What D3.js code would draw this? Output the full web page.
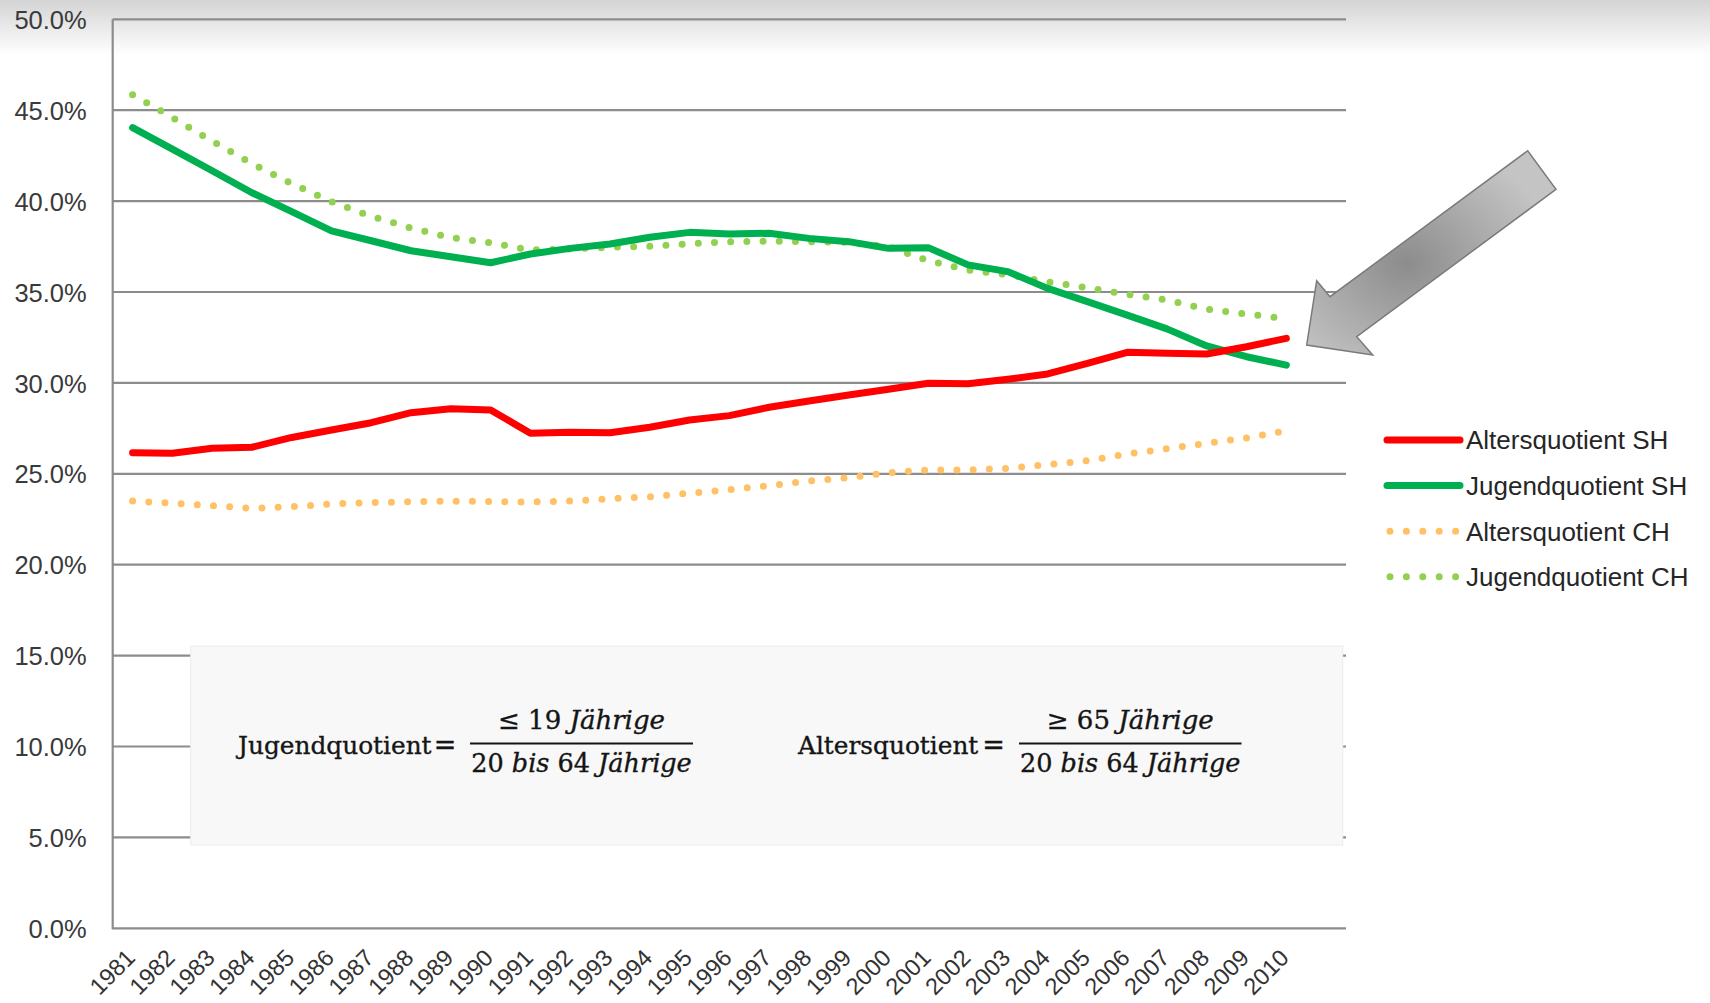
<!DOCTYPE html>
<html>
<head>
<meta charset="utf-8">
<script src="https://cdn.jsdelivr.net/npm/d3@7"></script>
<style>
  html, body { margin: 0; padding: 0; background: #fff; }
  svg { display: block; }
</style>
</head>
<body>
<svg id="chart" width="1710" height="1003"></svg>
<script>
// ---------- data ----------
const years = ["1981","1982","1983","1984","1985","1986","1987","1988","1989","1990",
               "1991","1992","1993","1994","1995","1996","1997","1998","1999","2000",
               "2001","2002","2003","2004","2005","2006","2007","2008","2009","2010"];
const altersSH = [26.16,26.13,26.40,26.46,27.00,27.41,27.81,28.36,28.58,28.51,
                  27.23,27.28,27.26,27.56,27.96,28.20,28.66,29.00,29.33,29.65,
                  29.98,29.95,30.20,30.49,31.08,31.68,31.63,31.59,31.99,32.45];
const jugendSH = [44.04,42.86,41.67,40.46,39.42,38.36,37.82,37.27,36.94,36.61,
                  37.09,37.40,37.64,38.01,38.28,38.19,38.23,37.95,37.77,37.40,
                  37.44,36.49,36.12,35.20,34.47,33.73,32.97,32.03,31.44,30.98];
const altersCH = [23.50,23.38,23.25,23.10,23.19,23.34,23.41,23.47,23.50,23.47,
                  23.45,23.50,23.63,23.74,23.93,24.13,24.35,24.60,24.79,25.06,
                  25.21,25.21,25.30,25.50,25.72,26.09,26.38,26.68,26.97,27.37];
const jugendCH = [45.85,44.60,43.30,42.06,40.96,39.97,39.16,38.52,37.99,37.71,
                  37.31,37.37,37.46,37.51,37.66,37.77,37.79,37.77,37.73,37.49,
                  36.72,36.21,35.95,35.55,35.24,34.87,34.56,34.05,33.79,33.53];
const yTicks = [0,5,10,15,20,25,30,35,40,45,50];
const seriesNames = ["Altersquotient SH","Jugendquotient SH","Altersquotient CH","Jugendquotient CH"];

// ---------- layout ----------
const svg = d3.select("#chart");
const L = 112.7, R = 1346, T = 19.3, B = 928.3;
const step = (R - L) / (years.length + 1);
const x = d3.scaleBand().domain(years).range([L, L + step * years.length]).padding(0);
const xc = d => x(d) + x.bandwidth() / 2;
const y = d3.scaleLinear().domain([0, 50]).range([B, T]);

const series = [
  {name: seriesNames[0], values: altersSH, color: "#FF0000", dotted: false},
  {name: seriesNames[1], values: jugendSH, color: "#00B050", dotted: false},
  {name: seriesNames[2], values: altersCH, color: "#FFC066", dotted: true},
  {name: seriesNames[3], values: jugendCH, color: "#92D050", dotted: true}
];

const defs = svg.append("defs");
const tg = defs.append("linearGradient").attr("id","topfade").attr("x1",0).attr("y1",0).attr("x2",0).attr("y2",1);
tg.append("stop").attr("offset","0%").attr("stop-color","#d4d4d4");
tg.append("stop").attr("offset","100%").attr("stop-color","#ffffff");
const ag = defs.append("radialGradient").attr("id","arrowfill").attr("cx","40%").attr("cy","55%").attr("r","60%");
ag.append("stop").attr("offset","0%").attr("stop-color","#8c8c8c");
ag.append("stop").attr("offset","100%").attr("stop-color","#c4c4c4");

svg.append("rect").attr("x",0).attr("y",0).attr("width",1710).attr("height",55).attr("fill","url(#topfade)");

// gridlines
svg.append("g").selectAll("line").data(yTicks).join("line")
  .attr("x1", L).attr("x2", R)
  .attr("y1", d => y(d)).attr("y2", d => y(d))
  .attr("stroke", "#8c8c8c").attr("stroke-width", 2.2);

// y axis line
svg.append("line").attr("x1", L).attr("x2", L).attr("y1", T).attr("y2", B + 1)
  .attr("stroke", "#8c8c8c").attr("stroke-width", 2.2);

// y axis labels
const yAxis = d3.axisLeft(y).tickValues(yTicks).tickFormat(d => d.toFixed(1) + "%").tickSize(0).tickPadding(26);
const gy = svg.append("g").attr("transform", `translate(${L},0)`).call(yAxis);
gy.select(".domain").remove();
gy.selectAll("text").attr("font-family", "Liberation Sans, Arial, sans-serif")
  .attr("font-size", 25.5).attr("fill", "#3a3a3a").attr("dy", "0.36em");

// x axis labels
const xAxis = d3.axisBottom(x).tickSize(0).tickPadding(0);
const gx = svg.append("g").attr("transform", `translate(0,${B})`).call(xAxis);
gx.select(".domain").remove();
gx.selectAll("text")
  .attr("font-family", "Liberation Sans, Arial, sans-serif")
  .attr("font-size", 23.5).attr("fill", "#333333")
  .attr("text-anchor", "end").attr("dy", "0.72em")
  .attr("transform", "translate(-8,19) rotate(-45)")
  .attr("y", 0).attr("x", 0);

// formula box
const box = svg.append("g");
box.append("rect").attr("x", 190.7).attr("y", 646).attr("width", 1342.7 - 190.7).attr("height", 845 - 646)
  .attr("fill", "#f8f8f8").attr("stroke", "#ececec").attr("stroke-width", 1);
const serif = "DejaVu Serif, Liberation Serif, serif";
function formula(label, lx, eqx, fx1, fx2, num, numItalic) {
  const g = box.append("g").attr("font-family", serif).attr("fill", "#151515")
    .attr("stroke", "#151515").attr("stroke-width", 0.35);
  g.append("text").attr("x", lx).attr("y", 754).attr("font-size", 24.8).text(label);
  g.append("text").attr("x", eqx).attr("y", 754).attr("font-size", 27).attr("text-anchor", "middle").text("=");
  g.append("line").attr("x1", fx1).attr("x2", fx2).attr("y1", 743.5).attr("y2", 743.5)
    .attr("stroke", "#151515").attr("stroke-width", 2);
  const cx = (fx1 + fx2) / 2;
  const tn = g.append("text").attr("x", cx).attr("y", 729).attr("font-size", 26).attr("text-anchor", "middle");
  tn.append("tspan").text(num + " ");
  tn.append("tspan").attr("font-style", "italic").text(numItalic);
  const td = g.append("text").attr("x", cx).attr("y", 772).attr("font-size", 25.5).attr("text-anchor", "middle");
  td.append("tspan").text("20 ");
  td.append("tspan").attr("font-style", "italic").text("bis");
  td.append("tspan").text(" 64 ");
  td.append("tspan").attr("font-style", "italic").text("Jährige");
}
formula("Jugendquotient", 238, 445, 470, 693, "≤ 19", "Jährige");
formula("Altersquotient", 798, 993.5, 1019, 1241.5, "≥ 65", "Jährige");

// lines
const line = d3.line().x((d, i) => xc(years[i])).y(d => y(d));
const order = [series[2], series[3], series[1], series[0]];
svg.append("g").selectAll("path").data(order).join("path")
  .attr("d", s => line(s.values))
  .attr("fill", "none")
  .attr("stroke", s => s.color)
  .attr("stroke-width", 7)
  .attr("stroke-linecap", "round")
  .attr("stroke-linejoin", "round")
  .attr("stroke-dasharray", s => s.dotted ? "0,16.2" : null);

// arrow
const arrowPts = [[1306.7,345],[1316.7,280.7],[1330,296.7],[1527.7,150.7],[1556,189.3],[1356.7,336.7],[1372.7,355]];
svg.append("polygon").attr("points", arrowPts.map(p => p.join(",")).join(" "))
  .attr("fill", "url(#arrowfill)").attr("stroke", "#7a7a7a").attr("stroke-width", 1.5)
  .attr("stroke-linejoin", "miter");

// legend
const lg = svg.append("g").attr("transform", "translate(1387,440)");
const rows = lg.selectAll("g").data(series).join("g").attr("transform", (d, i) => `translate(0,${i * 45.6})`);
rows.append("line").attr("x1", s => s.dotted ? 3 : 0).attr("x2", s => s.dotted ? 69 : 73)
  .attr("y1", 0).attr("y2", 0)
  .attr("stroke", s => s.color).attr("stroke-width", 7).attr("stroke-linecap", "round")
  .attr("stroke-dasharray", s => s.dotted ? "0,16.4" : null);
rows.append("text").attr("x", 79).attr("y", 0).attr("dy", "0.36em")
  .attr("font-family", "Liberation Sans, Arial, sans-serif").attr("font-size", 26)
  .attr("fill", "#262626").text(s => s.name);
</script>
</body>
</html>
